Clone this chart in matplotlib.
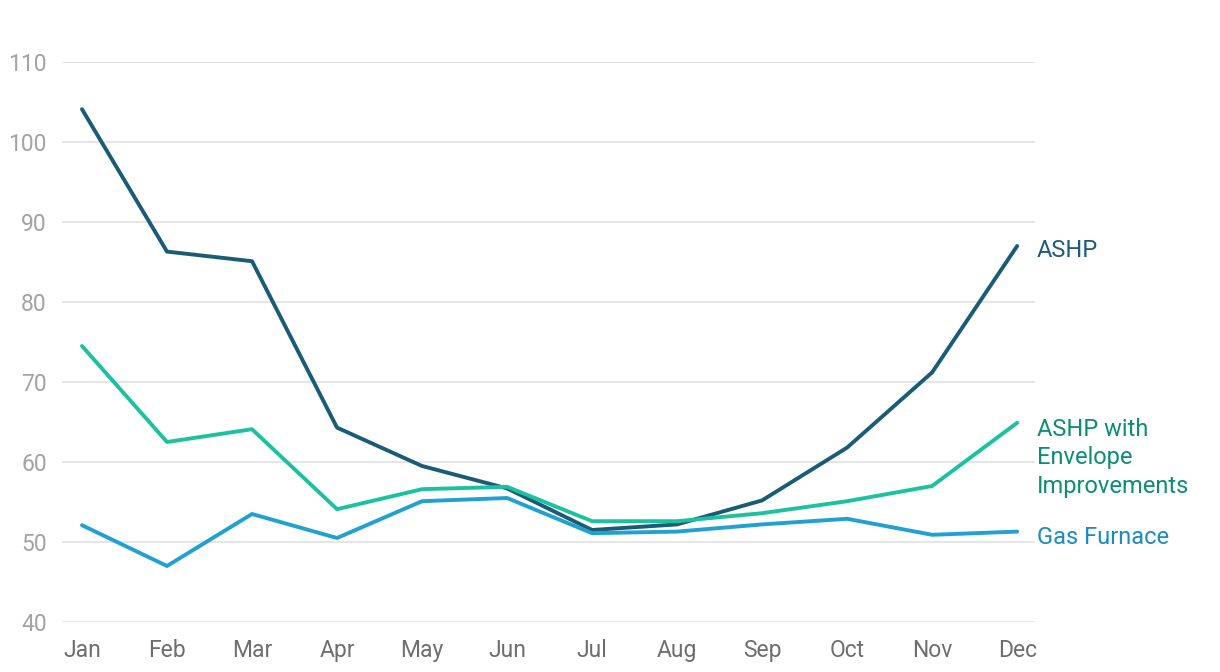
import matplotlib.pyplot as plt

months = ['Jan', 'Feb', 'Mar', 'Apr', 'May', 'Jun', 'Jul', 'Aug', 'Sep', 'Oct', 'Nov', 'Dec']
ashp = [104.1, 86.3, 85.1, 64.3, 59.5, 56.7, 51.5, 52.2, 55.2, 61.8, 71.2, 87.0]
ashp_envelope = [74.5, 62.5, 64.1, 54.1, 56.6, 56.9, 52.6, 52.6, 53.6, 55.1, 57.0, 64.9]
gas_furnace = [52.1, 47.0, 53.5, 50.5, 55.1, 55.5, 51.1, 51.3, 52.2, 52.9, 50.9, 51.3]

series = [
    ('ASHP', ashp, '#1a5c78', '#1b5e7a', -0.6),
    ('ASHP with\nEnvelope\nImprovements', ashp_envelope, '#1cc29f', '#0b8f74', -4.4),
    ('Gas Furnace', gas_furnace, '#21a0d2', '#1a8cc0', -0.8),
]

plt.rcParams['font.family'] = ['Roboto', 'DejaVu Sans']

fig = plt.figure(figsize=(12.2, 6.72), dpi=100)
ax = fig.add_axes([62 / 1220, 50 / 672, (1035 - 62) / 1220, 560 / 672])

x = list(range(len(months)))
for label, vals, color, tcolor, dy in series:
    ax.plot(x, vals, color=color, lw=2.8, solid_capstyle='round', zorder=3)
    ax.text(11.23, vals[-1] + dy, label, color=tcolor, fontsize=17,
            va='center', ha='left', linespacing=1.32)

ax.set_xlim(-0.235, 11.21)
ax.set_ylim(40, 110)
ax.set_yticks(range(40, 111, 10))
ax.set_xticks(x)
ax.set_xticklabels(months)
ax.grid(axis='y', color='#e3e3e3', lw=1.3)
ax.set_axisbelow(True)
for s in ax.spines.values():
    s.set_visible(False)
ax.tick_params(axis='y', length=0, pad=11, labelsize=16.5, labelcolor='#a3a3a3')
ax.tick_params(axis='x', length=0, pad=12, labelsize=16.5, labelcolor='#6e6e6e')

fig.savefig('out.png', dpi=100)
